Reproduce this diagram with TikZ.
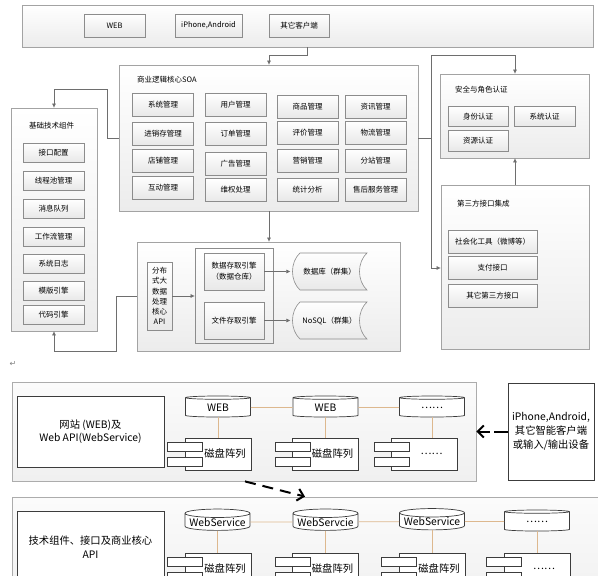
\documentclass[tikz,border=0pt]{standalone}
\usepackage{fontspec}
\setmainfont{Noto Sans CJK SC}
\newfontfamily\symfont{DejaVu Sans}
\usetikzlibrary{shapes.misc, shapes.geometric, arrows.meta}
\definecolor{panelbd}{HTML}{A3A3A3}
\definecolor{boxbd}{HTML}{8C8C8C}
\definecolor{linkgray}{HTML}{6E6E6E}
\definecolor{darkbd}{HTML}{3C3C3C}
\definecolor{tanline}{HTML}{DDB88E}
\newcommand\bigtext{\fontsize{10.3}{13.5}\selectfont}

\begin{document}
\begin{tikzpicture}[x=1pt,y=-1pt,
  font=\fontsize{7.5}{9}\selectfont,
  panel/.style={draw=panelbd, line width=0.8pt, top color=white, bottom color=gray!15, inner sep=0pt},
  cutpanel/.style={panel, chamfered rectangle, chamfered rectangle corners=north west, chamfered rectangle sep=12pt},
  box/.style={draw=boxbd, line width=0.6pt, top color=white, bottom color=gray!18, inner sep=1pt, minimum width=61pt, minimum height=23pt},
  title/.style={anchor=west, inner sep=0pt},
  link/.style={draw=linkgray, line width=0.7pt, -{Triangle[length=4pt,width=3.5pt]}},
  store/.style={minimum width=78pt, minimum height=40pt, inner sep=0pt,
    path picture={\draw[draw=boxbd, line width=0.6pt, top color=white, bottom color=gray!18]
      ([shift={(9.5pt,-1.5pt)}]path picture bounding box.north west)
      -- ([shift={(-1.5pt,-1.5pt)}]path picture bounding box.north east)
      .. controls +(-10pt,-9pt) and +(-10pt,9pt) .. ([shift={(-1.5pt,1.5pt)}]path picture bounding box.south east)
      -- ([shift={(9.5pt,1.5pt)}]path picture bounding box.south west)
      .. controls +(-10pt,9pt) and +(-10pt,-9pt) .. cycle;}},
  plate/.style={draw=gray!65, line width=0.8pt, top color=gray!3, bottom color=gray!12},
  whitebox/.style={draw=darkbd, line width=0.7pt, fill=white, align=center, font=\bigtext},
  drum/.style={cylinder, shape border rotate=90, aspect=0.15, draw=darkbd, line width=0.7pt, fill=white,
    minimum width=65pt, minimum height=21pt, inner sep=0pt, font=\bigtext},
  disk/.style={draw=darkbd, line width=0.7pt, fill=white, minimum width=66pt, minimum height=32pt,
    font=\bigtext, execute at begin node=\hspace*{14pt}},
  diskbar/.style={draw=darkbd, line width=0.6pt, fill=white},
  wire/.style={draw=tanline, line width=0.8pt},
  bigarrow/.style={line width=2pt, dash pattern=on 11pt off 7pt, -{Straight Barb[length=6pt,width=12pt]}}]
\path[use as bounding box, clip] (0,0) rectangle (598,576);

% 客户端
\node[cutpanel, minimum width=571pt, minimum height=42pt] (clients) at (307.5,26) {};
\node[box] (web) at (114.5,25.5) {WEB};
\node[box, minimum width=67pt] (mobile) at (208.5,25.5) {iPhone,Android};
\node[box, minimum width=60pt] (others) at (299,25.5) {其它客户端};

% 商业逻辑核心SOA
\node[cutpanel, minimum width=299pt, minimum height=146pt] (soa) at (268.5,138) {};
\node[title] (soatitle) at (137,80) {商业逻辑核心SOA};
\node[box] (sys) at (163,104.5) {系统管理};
\node[box] (stock) at (163,133.5) {进销存管理};
\node[box] (shop) at (163,160.5) {店铺管理};
\node[box] (interact) at (163,187.5) {互动管理};
\node[box] (user) at (235.5,104.5) {用户管理};
\node[box] (order) at (235.5,133.5) {订单管理};
\node[box] (ad) at (235.5,163.5) {广告管理};
\node[box] (rights) at (235.5,190) {维权处理};
\node[box] (goods) at (307.5,106.5) {商品管理};
\node[box] (review) at (307.5,133) {评价管理};
\node[box] (promo) at (307.5,160.5) {营销管理};
\node[box] (stats) at (307.5,189.5) {统计分析};
\node[box] (news) at (375.5,106.5) {资讯管理};
\node[box] (logistics) at (375.5,132.5) {物流管理};
\node[box] (branch) at (375.5,160.5) {分站管理};
\node[box] (aftersale) at (375.5,189.5) {售后服务管理};

% 基础技术组件
\node[panel, minimum width=86pt, minimum height=223pt] (base) at (54,219.5) {};
\node[title] (basetitle) at (29,126) {基础技术组件};
\node[box, minimum height=19pt] (ifconf) at (53.5,152.5) {接口配置};
\node[box, minimum height=19pt] (pool) at (53.5,180.5) {线程池管理};
\node[box, minimum height=19pt] (queue) at (53.5,208.5) {消息队列};
\node[box, minimum height=19pt] (flow) at (53.5,236.5) {工作流管理};
\node[box, minimum height=19pt] (log) at (53.5,263.5) {系统日志};
\node[box, minimum height=19pt] (tpl) at (53.5,291) {模版引擎};
\node[box, minimum height=19pt] (codegen) at (53.5,314.5) {代码引擎};

% 安全与角色认证
\node[cutpanel, minimum width=149pt, minimum height=84pt] (sec) at (514.5,116) {};
\node[title] (sectitle) at (455,90) {安全与角色认证};
\node[box, minimum width=60pt, minimum height=20pt] (ident) at (478,116.5) {身份认证};
\node[box, minimum height=20pt] (sysauth) at (544.5,116.5) {系统认证};
\node[box, minimum width=60pt, minimum height=21pt] (resauth) at (478,140.5) {资源认证};

% 第三方接口集成
\node[cutpanel, minimum width=148pt, minimum height=164pt] (third) at (515,267) {};
\node[title] (thirdtitle) at (457,204) {第三方接口集成};
\node[box, minimum width=89pt] (social) at (492.5,241.5) {社会化工具（微博等）};
\node[box, minimum width=89pt] (pay) at (492.5,267.5) {支付接口};
\node[box, minimum width=89pt] (otherif) at (492.5,295.5) {其它第三方接口};

% 数据处理
\node[cutpanel, minimum width=263pt, minimum height=109pt] (data) at (268.5,296.5) {};
\node[box, minimum width=25pt, minimum height=68pt, align=center, font=\fontsize{7.5}{10.2}\selectfont] (api) at (159.5,296) {分布\\式大\\数据\\处理\\核心\\API};
\node[panel, draw=boxbd, minimum width=78pt, minimum height=95pt] (engines) at (234,295.5) {};
\node[box, minimum width=60pt, minimum height=37pt, align=center, font=\fontsize{7.5}{11}\selectfont] (dwe) at (234,271.5) {数据存取引擎\\（数据仓库）};
\node[box, minimum width=60pt, minimum height=37pt] (fse) at (234,320.5) {文件存取引擎};
\node[store] (db) at (329.5,271.5) {数据库（群集）};
\node[store] (nosql) at (329.5,320.5) {NoSQL（群集）};

% 连线
\coordinate (split) at (431,138);
\draw[link] (clients.south -| 307,0) -- ++(0,8) -| (soa.north -| 269,0);
\draw[link] (soa.east) -| (split |- 0,55) -| (sec.north -| 515,0);
\draw[link] (split) |- (third.west |- 0,268);
\draw[link] (third.north -| 515,0) -- (sec.south -| 515,0);
\draw[link] (soa.west) -| (107,89) -| (base.north);
\draw[link] (soa.south -| 269,0) -- (data.north -| 269,0);
\draw[link] (data.west) -| (116,351) -| (base.south);
\draw[link] (api.east) -- (api.east -| engines.west);
\draw[link] (dwe) -- (db);
\draw[link] (fse) -- (nosql);

\node[font=\symfont\fontsize{8}{8}\selectfont, text=gray] (ret) at (13,364) {↵};

% 网站及 Web API
\node[plate, minimum width=464pt, minimum height=99pt] (net) at (244,431.5) {};
\node[whitebox, minimum width=147pt, minimum height=71pt] (site) at (90.5,431.5) {网站 (WEB)及\\Web API(WebService)};
\node[drum] (w1) at (218,407.5) {WEB};
\node[drum] (w2) at (325.5,407.5) {WEB};
\node[drum] (w3) at (432,407.5) {……};
\node[disk] (d1) at (218,454) {磁盘阵列};
\node[disk] (d2) at (325.5,454) {磁盘阵列};
\node[disk] (d3) at (424.5,454) {……};
\node[whitebox, minimum width=86pt, minimum height=97pt, font=\fontsize{10.3}{14}\selectfont] (client) at (551,431.5) {iPhone,Android,\\其它智能客户端\\或输入/输出设备};

% 技术组件、接口及商业核心 API
\node[plate, minimum width=593pt, minimum height=113pt] (apiframe) at (308.5,553.5) {};
\node[whitebox, minimum width=147pt, minimum height=72pt] (core) at (90.5,547) {技术组件、接口及商业核心\\API};
\node[drum] (s1) at (217.5,522) {WebService};
\node[drum] (s2) at (325.5,522) {WebServcie};
\node[drum] (s3) at (432,521.5) {WebService};
\node[drum] (s4) at (537,521.5) {……};
\node[disk] (e1) at (218,569) {磁盘阵列};
\node[disk] (e2) at (325.5,569) {磁盘阵列};
\node[disk] (e3) at (432,569) {磁盘阵列};
\node[disk] (e4) at (537,569) {……};

\foreach \c in {d1,d2,d3,e1,e2,e3,e4} {
  \draw[diskbar] ([shift={(-17pt,-5pt)}]\c.north west) rectangle +(35pt,-9pt);
  \draw[diskbar] ([shift={(-17pt,-20pt)}]\c.north west) rectangle +(35pt,-9pt);
}

\draw[wire] (w1) -- (w2) (w2) -- (w3);
\draw[wire] (w1) -- (d1.north -| w1) (w2) -- (d2.north -| w2) (w3) -- (d3.north -| w3);
\draw[wire] (s1) -- (s2) (s2) -- (s3) (s3) -- (s4);
\draw[wire] (s1) -- (e1.north -| s1) (s2) -- (e2.north -| s2) (s3) -- (e3.north -| s3) (s4) -- (e4.north -| s4);

\draw[bigarrow, dash pattern=on 14pt off 4pt] (client) -- (net);
\draw[bigarrow] (net.south -| 245,0) -- (apiframe.north -| 305,0);
\end{tikzpicture}
\end{document}
